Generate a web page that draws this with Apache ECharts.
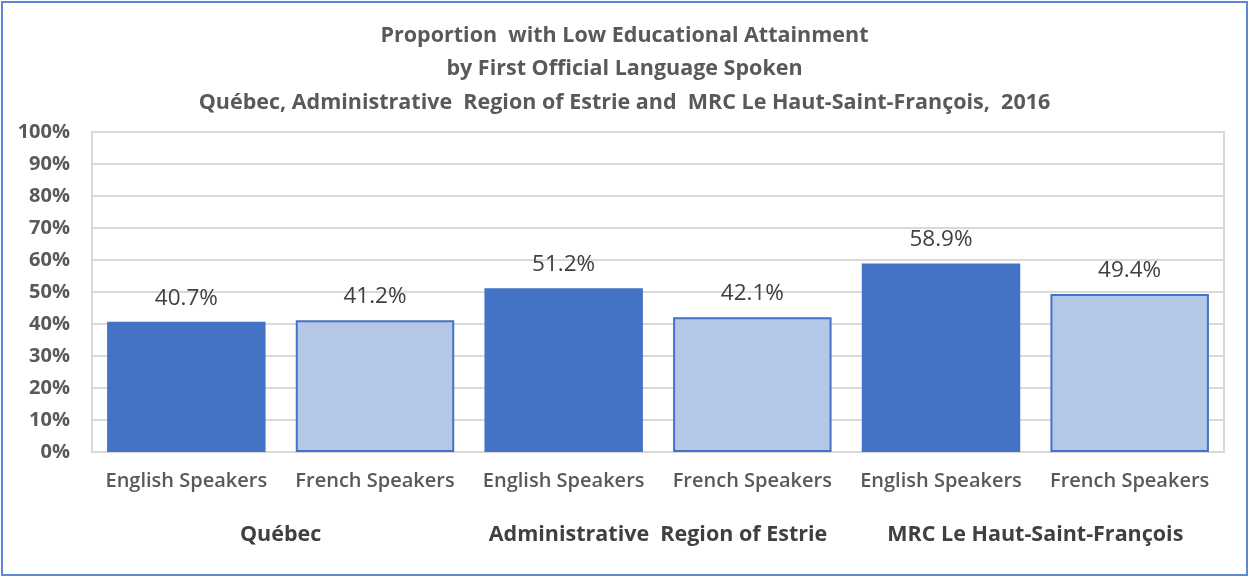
<!DOCTYPE html>
<html>
<head>
<meta charset="utf-8">
<script src="https://cdn.jsdelivr.net/npm/echarts@6/dist/echarts.min.js"></script>
<style>
  html, body { margin: 0; padding: 0; background: #ffffff; }
  #wrap { position: relative; width: 1249px; height: 577px; }
  #c { position: absolute; left: 0; top: 0; width: 1249px; height: 577px; }
  #frame { position: absolute; left: 1px; top: 1px; width: 1243px; height: 571px; border: 2px solid #5f87d3; pointer-events: none; }
</style>
</head>
<body>
<div id="wrap"><div id="c"></div><div id="frame"></div></div>
<script>
const titleLines = [
  'Proportion  with Low Educational Attainment',
  'by First Official Language Spoken',
  'Québec, Administrative  Region of Estrie and  MRC Le Haut-Saint-François,  2016'
];
const categories = ['English Speakers', 'French Speakers', 'English Speakers', 'French Speakers', 'English Speakers', 'French Speakers'];
const groups = ['Québec', 'Administrative  Region of Estrie', 'MRC Le Haut-Saint-François'];
const values = [40.7, 41.2, 51.2, 42.1, 58.9, 49.4];
const languages = ['English', 'French', 'English', 'French', 'English', 'French'];

const FONT = '"Open Sans", sans-serif';
const chart = echarts.init(document.getElementById('c'), null, { renderer: 'canvas' });

const data = values.map((v, i) => ({
  value: v,
  itemStyle: languages[i] === 'English'
    ? { color: '#4472C4', borderColor: '#4472C4', borderWidth: 0 }
    : { color: '#B4C7E7', borderColor: '#4472C4', borderWidth: 2 }
}));

chart.setOption({
  backgroundColor: '#ffffff',
  animation: false,
  title: {
    text: titleLines.join('\n'),
    left: 'center',
    top: 14,
    textStyle: { fontFamily: FONT, fontSize: 21.5, fontWeight: 'bold', color: '#595959', lineHeight: 33.5 }
  },
  grid: {
    left: 92, right: 25, top: 132, bottom: 125,
    show: true, borderColor: '#d9d9d9', borderWidth: 2, backgroundColor: 'transparent'
  },
  xAxis: [
    {
      type: 'category',
      data: categories,
      position: 'bottom',
      axisLine: { show: true, lineStyle: { color: '#d9d9d9', width: 2 } },
      axisTick: { show: false },
      axisLabel: { fontFamily: FONT, fontSize: 20, fontWeight: 600, color: '#595959', margin: 19, interval: 0 }
    },
    {
      type: 'category',
      data: groups,
      position: 'bottom',
      offset: 62,
      axisLine: { show: false },
      axisTick: { show: false },
      splitLine: { show: false },
      axisLabel: { fontFamily: FONT, fontSize: 21.5, fontWeight: 'bold', color: '#404040', margin: 10, interval: 0 }
    }
  ],
  yAxis: {
    type: 'value',
    min: 0, max: 100, interval: 10,
    axisLine: { show: true, lineStyle: { color: '#d9d9d9', width: 2 } },
    axisTick: { show: false },
    splitLine: { show: true, lineStyle: { color: '#d9d9d9', width: 2 } },
    axisLabel: { formatter: '{value}%', fontFamily: FONT, fontSize: 20, fontWeight: 'bold', color: '#595959', margin: 22 }
  },
  series: [{
    type: 'bar',
    xAxisIndex: 0,
    data: data,
    barCategoryGap: '16%',
    label: {
      show: true, position: 'top', distance: 12,
      formatter: p => p.value.toFixed(1) + '%',
      fontFamily: FONT, fontSize: 22.5, color: '#404040'
    }
  }]
});
</script>
</body>
</html>
